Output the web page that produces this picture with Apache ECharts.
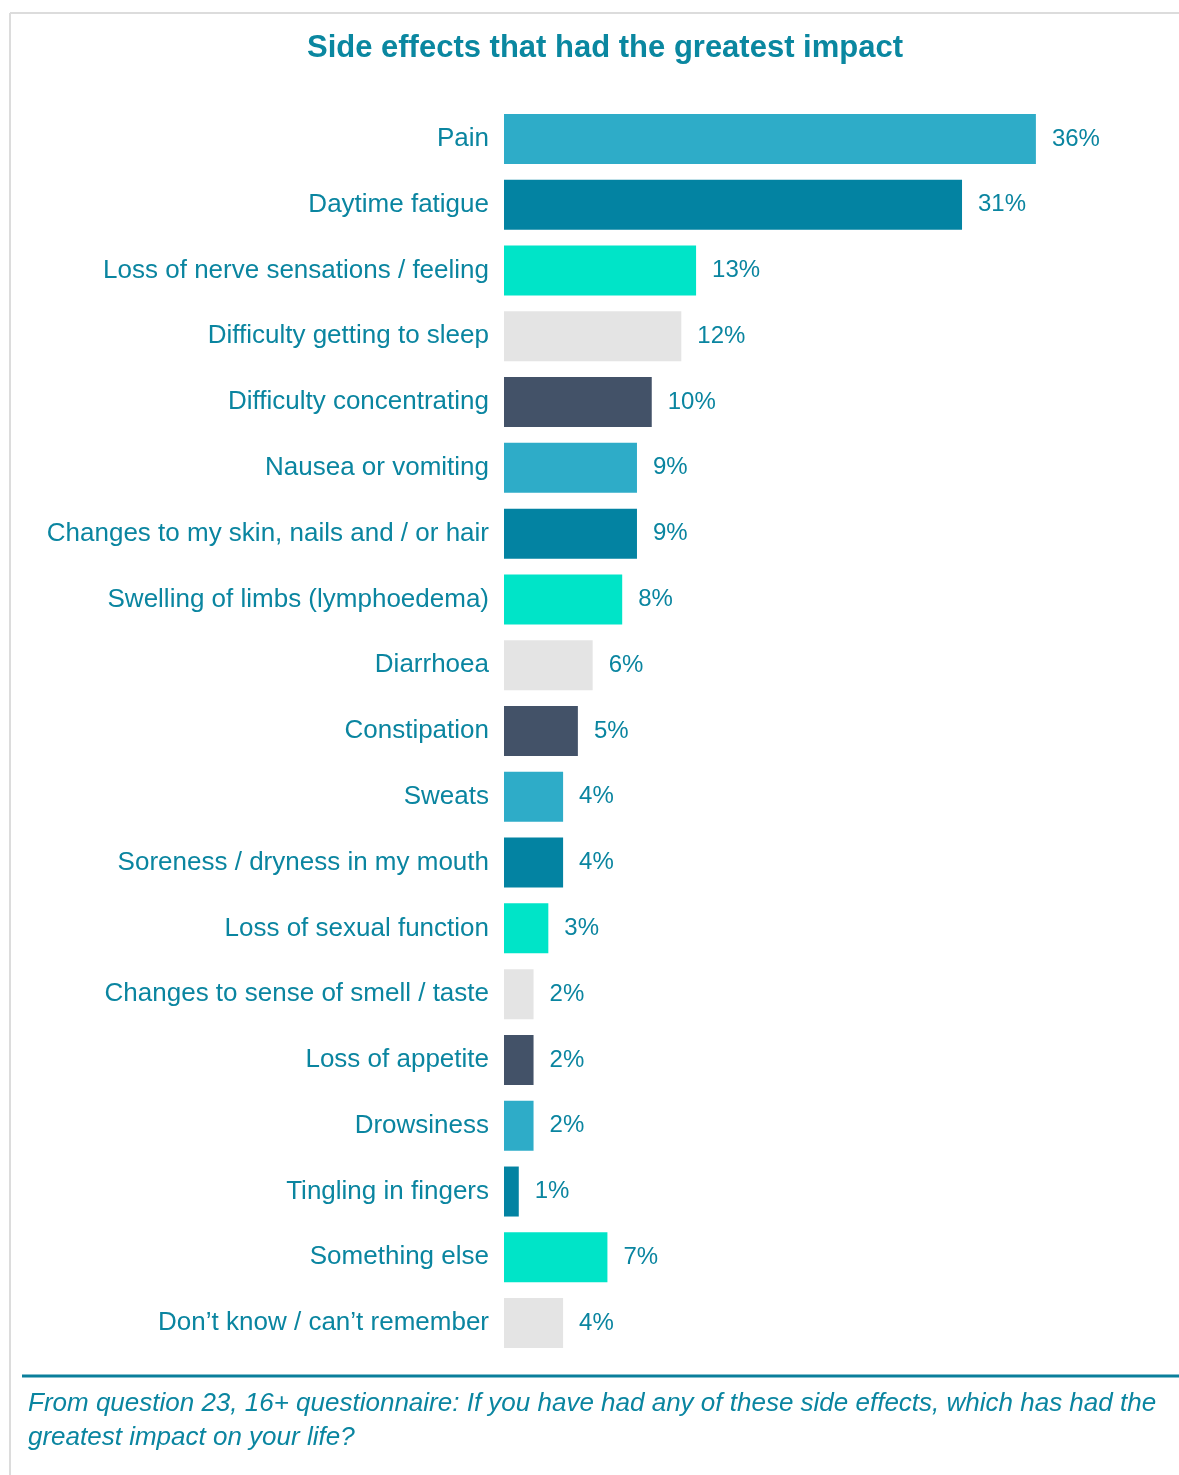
<!DOCTYPE html>
<html><head><meta charset="utf-8">
<script src="https://cdn.jsdelivr.net/npm/echarts@6/dist/echarts.min.js"></script>
<style>html,body{margin:0;padding:0;background:#fff}#c{width:1179px;height:1475px}</style>
</head><body><div id="c"></div>
<script>
const categories = ["Pain","Daytime fatigue","Loss of nerve sensations / feeling","Difficulty getting to sleep","Difficulty concentrating","Nausea or vomiting","Changes to my skin, nails and / or hair","Swelling of limbs (lymphoedema)","Diarrhoea","Constipation","Sweats","Soreness / dryness in my mouth","Loss of sexual function","Changes to sense of smell / taste","Loss of appetite","Drowsiness","Tingling in fingers","Something else","Don\u2019t know / can\u2019t remember"];
const values = [36,31,13,12,10,9,9,8,6,5,4,4,3,2,2,2,1,7,4];
const palette = ["#2EACC8","#0383A2","#00E4C8","#E4E4E4","#435268"];
const titleText = "Side effects that had the greatest impact";
const noteLines = ["From question 23, 16+ questionnaire: If you have had any of these side effects, which has had the","greatest impact on your life?"];

const textColor = "#0A85A0";
const chart = echarts.init(document.getElementById('c'));
chart.setOption({
  animation:false,
  title:{text:titleText,left:600,top:28,textAlign:'center',
    textStyle:{fontFamily:'Liberation Sans',fontWeight:'bold',fontSize:31,color:'#0A87A0'}},
  grid:{left:504,top:106,width:591,height:1250,containLabel:false},
  xAxis:{type:'value',min:0,max:40,show:false},
  yAxis:{type:'category',data:categories,inverse:true,
    axisLine:{show:false},axisTick:{show:false},
    axisLabel:{margin:15,fontFamily:'Liberation Sans',fontSize:26,color:textColor}},
  series:[{type:'bar',barCategoryGap:'24%',
    data:values.map((v,i)=>({value:v,itemStyle:{color:palette[i%5]}})),
    label:{show:true,position:'right',distance:16,formatter:'{c}%',
      fontFamily:'Liberation Sans',fontSize:24,color:textColor}}],
  graphic:[
    {type:'line',shape:{x1:10,y1:13,x2:1179,y2:13},style:{stroke:'#DCDCDC',lineWidth:2}},
    {type:'line',shape:{x1:10,y1:13,x2:10,y2:1475},style:{stroke:'#DCDCDC',lineWidth:2}},
    {type:'line',shape:{x1:22,y1:1376,x2:1179,y2:1376},style:{stroke:'#0A7F9B',lineWidth:3}},
    {type:'text',left:28,top:1391,style:{text:noteLines[0],fontFamily:'Liberation Sans',fontStyle:'italic',fontSize:26,fill:'#0A85A0'}},
    {type:'text',left:28,top:1425,style:{text:noteLines[1],fontFamily:'Liberation Sans',fontStyle:'italic',fontSize:26,fill:'#0A85A0'}}
  ]
});
</script></body></html>
